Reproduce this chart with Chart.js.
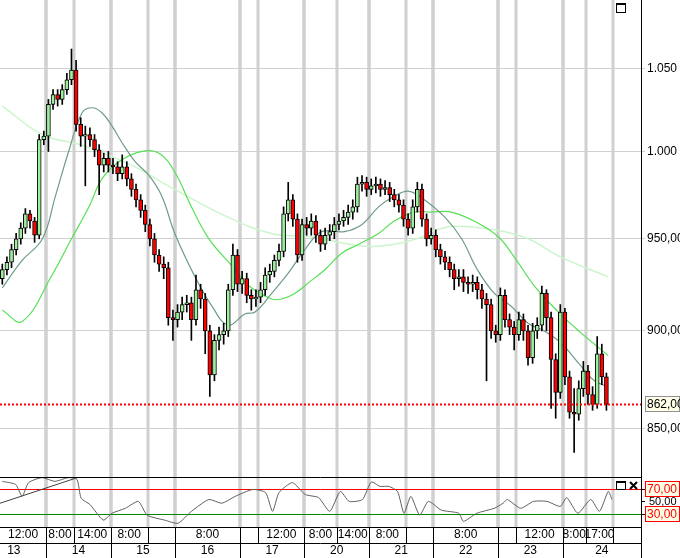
<!DOCTYPE html>
<html>
<head>
<meta charset="utf-8">
<script src="https://cdn.jsdelivr.net/npm/chart.js@4.4.1/dist/chart.umd.min.js"></script>
<style>
  html, body { margin: 0; padding: 0; background: #fff; }
  #wrap { width: 680px; height: 558px; position: relative; }
</style>
</head>
<body>
<div id="wrap"><canvas id="c"></canvas></div>
<script>
// candles, one per slot (slot = x position on the time axis)
const opens = [928,933,937,944,950,956,964,960,952,1007,
  1009,1028,1034,1031,1037,1043,1049,1016,1009,1010,1007,1001,992,996,
  992,991,987,991,984,978,972,966,958,950,941,936,934,907,
  906,910,914,915,906,922,917,900,877,895,898,900,922,941,
  925,928,919,917,918,922,930,932,938,943,964,972,961,941,
  958,956,960,952,947,952,954,958,960,962,965,968,981,982,
  978,980,981,978,979,975,972,969,961,956,968,978,961,950,
  952,944,940,937,933,928,929,926,925,926,922,917,914,900,
  898,919,906,902,898,906,900,886,900,903,920,907,885,868,
  910,876,858,857,870,879,867,862,888,876];
const closes = [933,937,944,950,956,964,960,952,1007,1009,
  1028,1034,1031,1037,1043,1049,1016,1009,1010,1007,1001,992,996,992,
  991,987,991,984,978,972,966,958,950,941,936,934,907,906,
  910,914,915,906,922,917,900,877,895,898,900,922,941,925,
  928,919,917,918,922,930,932,938,943,964,972,961,941,958,
  956,960,952,947,952,954,958,960,962,965,968,981,982,978,
  980,981,978,979,975,972,969,961,956,968,978,961,950,952,
  944,940,937,933,928,929,926,925,926,922,917,914,900,898,
  919,906,902,898,906,900,886,900,903,920,907,885,868,910,
  876,858,857,870,879,867,862,888,876,862];
const highs = [936,940,947,953,959,967,966,962,1010,1012,
  1031,1037,1037,1040,1047,1062,1055,1020,1015,1014,1010,1004,999,1000,
  996,994,998,994,987,981,975,969,961,953,944,940,937,911,
  914,918,919,918,930,925,920,903,898,902,904,925,947,944,
  932,931,922,922,926,934,936,941,947,968,982,975,964,961,
  962,964,963,955,956,958,962,964,966,969,972,985,986,985,
  984,985,984,983,982,978,975,972,964,972,982,981,964,956,
  955,947,943,940,936,933,933,929,930,929,925,920,917,903,
  923,922,909,905,910,909,903,904,907,924,922,910,888,914,
  912,879,870,874,884,882,871,897,893,878];
const lows = [925,930,934,941,947,953,956,948,950,1004,
  1000,1025,1027,1028,1034,1040,1012,1003,980,1003,997,975,988,988,
  987,983,984,980,974,968,962,954,946,937,932,928,903,895,
  902,906,910,895,903,912,888,866,874,890,893,897,919,921,
  920,915,911,913,915,919,926,929,935,940,960,957,937,938,
  952,952,948,943,944,949,950,955,957,958,961,965,977,974,
  975,976,974,975,971,968,965,957,952,953,965,957,946,947,
  940,936,933,929,922,924,921,920,921,917,912,874,896,894,
  895,902,898,890,895,895,882,883,896,900,900,860,855,865,
  872,855,838,854,866,862,859,860,872,859];
const lastPrice = 862;

// moving averages as [slot, value]
const maFast = [[0,923],[4.3,938],[8.7,950],[11.5,974],[14.5,1001],[17.3,1023],[19.5,1026],[21.6,1023],
  [23.8,1015],[26,1005],[28.8,994],[31.8,986],[34.6,974],[37.4,953],[41.8,929],[45.5,913],[49,903],
  [52.6,909],[54.8,910],[58.4,920],[62,931],[65.6,944],[69.3,954],[74.2,954],[78,958],[81.6,968],
  [85,974],[88,977],[91,973],[96,962],[99.6,950],[103,933],[106.7,920],[110.4,913],[114,904],
  [117.5,900],[121,894],[125,883],[128.4,874],[131.4,871]];
const maMid = [[0,911],[4.3,905],[10.8,930],[15,950],[18.8,968],[21.6,984],[25.3,994],[30.3,1000],
  [34,999],[37.4,988],[41,968],[44.8,950],[49.8,935],[53.5,924],[58.4,917],[60.6,917],[63.4,920],
  [66.5,926],[70,933],[73.6,942],[77.3,947],[81.6,953],[85,960],[89.4,965],[93,965],[97.4,965],
  [103,959],[107.6,951],[111,940],[115.4,924],[120.6,910],[125,900],[131.4,887]];
const maSlow = [[0,1027],[8.7,1010],[18,1003],[28.8,991],[34.6,982],[49,962],[58.4,953],[67,951],
  [78,946],[85,947],[91,951],[93,954],[98,957],[106.7,955],[114,950],[121,940],[131.4,929]];

// oscillator panel
const rsi = [[0,82],[2.9,77],[4.3,58],[5.7,80],[8.6,88],[11.4,82],[14.3,88],[16.2,85],[17.1,55],[19,45],
  [21.9,20],[23.8,31],[26.7,39],[29.5,50],[31.4,28],[35.2,20],[38.1,15],[41,34],[44.8,53],[47.6,47],
  [50.5,58],[54.3,69],[57.1,64],[58.6,34],[60,64],[62.9,80],[65.7,61],[68.6,56],[71,34],[73.3,66],
  [75.2,50],[78.1,53],[80,81],[81.9,74],[83.8,74],[85.7,66],[87.1,31],[88.6,58],[90.5,28],[92.4,50],
  [95.2,36],[99,31],[100,18],[102.9,31],[106.7,39],[108.6,47],[109.5,53],[112.4,39],[115.2,50],
  [118.1,50],[121,42],[122.4,56],[124.8,31],[127.6,53],[129.5,34],[131.4,66],[132.2,53]];
const rsiTrend = [[-0.5,47],[16.7,89]];
const rsiLevels = [70, 50, 30];

// time axis
const priceTicks = [850, 900, 950, 1000, 1050];
const days = ['13','14','15','16','17','20','21','22','23','24'];
const dayStarts = [-4, 10, 24, 38, 52, 66, 80, 94, 108, 122];
const hourLabels = ['12:00','8:00','14:00','8:00','','8:00','','12:00','8:00','14:00','8:00','','8:00','','12:00','8:00','17:00',''];
const hourStarts = [0, 10, 16, 24, 32, 38, 52, 56, 66, 73, 80, 88, 94, 108, 112, 122, 127, 133];
const lastSlot = 139;

const pts = a => a.map(p => ({ x: p[0], y: p[1] }));
const UP = '#9cf09c', DOWN = '#ff0000';
const FONT = '"Liberation Sans", Arial, sans-serif';

const fmtPrice = v => v >= 1000 ? Math.floor(v / 1000) + '.' + String(v % 1000).padStart(3, '0') : v + ',00';

const frame = {
  id: 'frame',
  beforeDatasetsDraw(chart) {
    const { ctx, chartArea: a, scales } = chart;
    const x = scales.x, r = scales.rsi;
    ctx.save();
    ctx.strokeStyle = '#d0d0d0';
    ctx.lineWidth = 3;
    hourStarts.slice(1).concat(dayStarts.slice(1)).forEach(s => {
      const px = Math.round(x.getPixelForValue(s - 0.5));
      ctx.beginPath(); ctx.moveTo(px, a.top); ctx.lineTo(px, a.bottom); ctx.stroke();
    });
    ctx.lineWidth = 1;
    [[70, '#ff0000'], [30, '#008800']].forEach(([v, col]) => {
      const py = Math.round(r.getPixelForValue(v)) + 0.5;
      ctx.strokeStyle = col;
      ctx.beginPath(); ctx.moveTo(a.left, py); ctx.lineTo(a.right, py); ctx.stroke();
    });
    ctx.restore();
  },
  afterDatasetsDraw(chart) {
    const { ctx, chartArea: a, scales } = chart;
    const py = Math.round(scales.y.getPixelForValue(lastPrice)) + 0.5;
    ctx.save();
    ctx.strokeStyle = '#ff0000';
    ctx.lineWidth = 2;
    ctx.setLineDash([2, 2]);
    ctx.beginPath(); ctx.moveTo(a.left, py); ctx.lineTo(a.right, py); ctx.stroke();
    ctx.restore();
  },
  afterDraw(chart) {
    const { ctx, chartArea: a, scales } = chart;
    const x = scales.x, r = scales.rsi, y = scales.y;
    const W = chart.width, H = chart.height;
    ctx.save();
    ctx.strokeStyle = '#000';
    ctx.lineWidth = 1;
    const hline = (yy, x0, x1) => { ctx.beginPath(); ctx.moveTo(x0, yy + 0.5); ctx.lineTo(x1, yy + 0.5); ctx.stroke(); };
    const vline = (xx, y0, y1) => { ctx.beginPath(); ctx.moveTo(xx + 0.5, y0); ctx.lineTo(xx + 0.5, y1); ctx.stroke(); };
    const panelTop = Math.round(r.top);
    hline(panelTop, 0, a.right);
    hline(Math.round(a.bottom), 0, a.right);
    const row1 = Math.round(a.bottom), row2 = row1 + 16;
    hline(row2, 0, a.right);
    vline(Math.round(a.right), 0, H);

    ctx.fillStyle = '#000';
    ctx.font = '12px ' + FONT;
    ctx.textAlign = 'center';
    ctx.textBaseline = 'middle';
    hourStarts.forEach((s, i) => {
      const x0 = x.getPixelForValue(s - 0.5);
      const x1 = Math.min(x.getPixelForValue((hourStarts[i + 1] ?? lastSlot) - 0.5), a.right);
      if (i > 0) vline(Math.round(x0), row1, row2);
      if (hourLabels[i]) ctx.fillText(hourLabels[i], (Math.max(x0, 0) + x1) / 2, row1 + 8);
    });
    days.forEach((d, i) => {
      const x0 = x.getPixelForValue(dayStarts[i] - 0.5);
      const x1 = x.getPixelForValue((dayStarts[i + 1] ?? lastSlot) - 0.5);
      if (i > 0) vline(Math.round(x0), row2, H);
      ctx.fillText(d, (x0 + x1) / 2, row2 + 8);
    });

    // value boxes on the right axis
    const box = (txt, yy, col, border) => {
      ctx.fillStyle = '#ffffe8';
      ctx.fillRect(a.right + 4, yy - 7, W - a.right - 5, 15);
      ctx.strokeStyle = border;
      ctx.strokeRect(a.right + 4.5, yy - 7.5, W - a.right - 5, 15);
      ctx.fillStyle = col;
      ctx.textAlign = 'left';
      ctx.fillText(txt, a.right + 6, yy + 0.5);
    };
    box(fmtPrice(lastPrice), Math.round(y.getPixelForValue(lastPrice)), '#000', '#909090');
    box('70,00', Math.round(r.getPixelForValue(70)), '#ff0000', '#ff0000');
    box('30,00', Math.round(r.getPixelForValue(30)), '#ff0000', '#ff0000');
    ctx.fillStyle = '#000';
    ctx.font = '11px ' + FONT;
    ctx.fillText('50,00', a.right + 8, Math.round(r.getPixelForValue(50)) + 0.5);
    ctx.strokeStyle = '#000';
    rsiLevels.forEach(v => hline(Math.round(r.getPixelForValue(v)), a.right, a.right + 4));

    // window icons
    ctx.strokeStyle = '#000';
    ctx.strokeRect(616.5, 3.5, 9, 9);
    ctx.fillRect(616, 3, 10, 2);
    ctx.strokeRect(616.5, panelTop + 4.5, 9, 8);
    ctx.fillRect(616, panelTop + 4, 10, 2);
    ctx.lineWidth = 2;
    ctx.beginPath();
    ctx.moveTo(630, panelTop + 5); ctx.lineTo(637, panelTop + 12);
    ctx.moveTo(637, panelTop + 5); ctx.lineTo(630, panelTop + 12);
    ctx.stroke();
    ctx.restore();
  }
};

const candleColor = c => {
  const i = c.dataIndex;
  return closes[i] >= opens[i] ? UP : DOWN;
};

const noPad = s => { s.width = 39; s.paddingTop = 0; s.paddingBottom = 0; };

new Chart(document.getElementById('c'), {
  type: 'bar',
  data: {
    datasets: [
      {
        label: 'body',
        data: closes.map((c, i) => ({ x: i, y: [opens[i], c] })),
        backgroundColor: candleColor,
        borderColor: '#000', borderWidth: 1, borderSkipped: false,
        barThickness: 4, grouped: false, order: 1, yAxisID: 'y'
      },
      {
        label: 'wick',
        data: highs.map((h, i) => ({ x: i, y: [lows[i], h] })),
        backgroundColor: '#000', barThickness: 1, grouped: false, order: 2, yAxisID: 'y'
      },
      { type: 'line', label: 'slow', data: pts(maSlow), borderColor: '#cdf5cd', borderWidth: 1.5, pointRadius: 0, tension: 0.4, order: 5, yAxisID: 'y' },
      { type: 'line', label: 'mid', data: pts(maMid), borderColor: '#55e055', borderWidth: 1.2, pointRadius: 0, tension: 0.4, order: 4, yAxisID: 'y' },
      { type: 'line', label: 'fast', data: pts(maFast), borderColor: '#6f9c86', borderWidth: 1.2, pointRadius: 0, tension: 0.4, order: 3, yAxisID: 'y' },
      { type: 'line', label: 'rsi', data: pts(rsi), borderColor: '#606060', borderWidth: 1, pointRadius: 0, tension: 0.2, order: 3, yAxisID: 'rsi' },
      { type: 'line', label: 'trend', data: pts(rsiTrend), borderColor: '#404040', borderWidth: 1, pointRadius: 0, order: 3, yAxisID: 'rsi' }
    ]
  },
  options: {
    animation: false,
    responsive: true,
    maintainAspectRatio: false,
    devicePixelRatio: 1,
    layout: { padding: { left: 0, top: 0, right: 0, bottom: 31 } },
    plugins: { legend: { display: false }, tooltip: { enabled: false } },
    scales: {
      x: { type: 'linear', min: -0.5, max: lastSlot - 0.5, offset: false, display: false },
      y: {
        type: 'logarithmic', position: 'right', stack: 'v', stackWeight: 477,
        min: 826, max: 1093,
        afterBuildTicks: s => { s.ticks = priceTicks.map(v => ({ value: v })); },
        afterFit: noPad,
        border: { color: '#000' },
        grid: { color: '#d0d0d0', tickLength: 4 },
        ticks: { color: '#000', padding: 2, font: { family: FONT, size: 12 }, callback: v => fmtPrice(v) }
      },
      rsi: {
        type: 'linear', position: 'right', stack: 'v', stackWeight: 50,
        min: 9, max: 89,
        afterFit: noPad,
        border: { color: '#000' },
        grid: { display: false },
        ticks: { display: false }
      }
    }
  },
  plugins: [frame]
});
</script>
</body>
</html>
